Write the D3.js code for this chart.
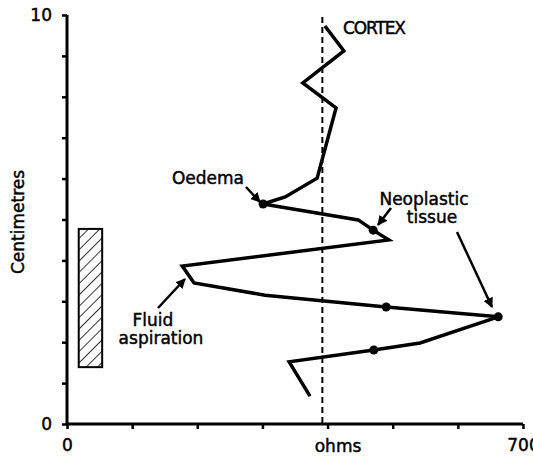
<!DOCTYPE html>
<html>
<head>
<meta charset="utf-8">
<script src="https://cdn.jsdelivr.net/npm/d3@7"></script>
<style>
  html, body { margin: 0; padding: 0; background: #fff; }
  svg { display: block; }
  text { font-family: "DejaVu Sans", sans-serif; font-size: 17px; fill: #000; stroke: #000; stroke-width: 0.45px; }
</style>
</head>
<body>
<svg id="chart" width="533" height="457"></svg>
<script>
// ---- data ----
const ohmsValues  = [396, 425, 362, 413, 384, 335, 301, 447, 470, 494, 177, 195, 304, 490, 662, 542, 471, 341, 373];
const depthValues = [9.73, 9.12, 8.34, 7.73, 6.01, 5.55, 5.38, 4.99, 4.74, 4.50, 3.86, 3.45, 3.15, 2.86, 2.62, 1.98, 1.81, 1.52, 0.68];
const markedIndex = [6, 8, 13, 14, 16];
const cortexOhms = 392;
const cortexTopCm = 9.95;
const aspirationOhms = [18, 54];
const aspirationCm = [1.39, 4.77];
const xTickValues = [0, 100, 200, 300, 400, 500, 600, 700];
const yTickValues = [0, 1, 2, 3, 4, 5, 6, 7, 8, 9, 10];
const xTickLabels = {0: "0", 700: "700"};
const yTickLabels = {0: "0", 10: "10"};

// ---- scales ----
const svg = d3.select("#chart");
const x = d3.scaleLinear().domain([0, 700]).range([67, 523]);
const y = d3.scaleLinear().domain([0, 10]).range([424, 15]);

// hatch pattern
const defs = svg.append("defs");
const pat = defs.append("pattern").attr("id", "hatch").attr("patternUnits", "userSpaceOnUse")
  .attr("width", 8).attr("height", 8).attr("patternTransform", "rotate(45)");
pat.append("line").attr("x1", 0).attr("y1", 0).attr("x2", 0).attr("y2", 8)
  .attr("stroke", "#000").attr("stroke-width", 1.6);

// ---- axes ----
const xAxis = d3.axisBottom(x).tickValues(xTickValues).tickSize(5).tickPadding(10)
  .tickFormat(d => xTickLabels[d] || "");
const gx = svg.append("g").attr("transform", `translate(0,${y(0)})`).call(xAxis);
gx.select(".domain").attr("stroke", "#000").attr("stroke-width", 3).attr("d", `M${x(0)},0H${x(700)}`);
gx.selectAll(".tick line").attr("stroke", "#000").attr("stroke-width", 2.5);
gx.selectAll(".tick text").attr("font-size", 17).attr("font-family", "DejaVu Sans").attr("dy", "0.71em");

const yAxis = d3.axisLeft(y).tickValues(yTickValues).tickSize(5).tickPadding(10)
  .tickFormat(d => yTickLabels[d] || "");
const gy = svg.append("g").attr("transform", `translate(${x(0)},0)`).call(yAxis);
gy.select(".domain").attr("stroke", "#000").attr("stroke-width", 3).attr("d", `M0,${y(10)}V${y(0)}`);
gy.selectAll(".tick line").attr("stroke", "#000").attr("stroke-width", 2.5);
gy.selectAll(".tick text").attr("font-size", 17).attr("font-family", "DejaVu Sans");

svg.append("text").attr("x", 338).attr("y", 452).attr("text-anchor", "middle").text("ohms");
svg.append("text").attr("transform", "translate(24,222) rotate(-90)").attr("text-anchor", "middle").text("Centimetres");

// ---- cortex reference dashed line ----
svg.append("line")
  .attr("x1", x(cortexOhms)).attr("x2", x(cortexOhms))
  .attr("y1", y(cortexTopCm)).attr("y2", y(0))
  .attr("stroke", "#000").attr("stroke-width", 2).attr("stroke-dasharray", "6,4");

// ---- aspiration bar ----
svg.append("rect")
  .attr("x", x(aspirationOhms[0])).attr("y", y(aspirationCm[1]))
  .attr("width", x(aspirationOhms[1]) - x(aspirationOhms[0]))
  .attr("height", y(aspirationCm[0]) - y(aspirationCm[1]))
  .attr("fill", "url(#hatch)").attr("stroke", "#000").attr("stroke-width", 2);

// ---- profile line ----
const pts = ohmsValues.map((v, i) => ({o: v, d: depthValues[i]}));
svg.append("path").datum(pts)
  .attr("d", d3.line().x(d => x(d.o)).y(d => y(d.d)))
  .attr("fill", "none").attr("stroke", "#000").attr("stroke-width", 3.5)
  .attr("stroke-linejoin", "miter");
svg.selectAll("circle.mark").data(markedIndex.map(i => pts[i])).enter()
  .append("circle").attr("class", "mark")
  .attr("cx", d => x(d.o)).attr("cy", d => y(d.d)).attr("r", 4.5).attr("fill", "#000");

// ---- annotations ----
defs.append("marker").attr("id", "arrow").attr("viewBox", "0 0 10 10")
  .attr("refX", 9).attr("refY", 5).attr("markerWidth", 4).attr("markerHeight", 4)
  .attr("markerUnits", "strokeWidth").attr("orient", "auto")
  .append("path").attr("d", "M0,0L10,5L0,10z").attr("fill", "#000");

const arrows = [
  [246, 187, 260, 202],
  [391, 208, 378, 225],
  [457, 232, 492, 307],
  [158, 308, 185, 279]
];
svg.selectAll("line.arrow").data(arrows).enter().append("line").attr("class", "arrow")
  .attr("x1", d => d[0]).attr("y1", d => d[1]).attr("x2", d => d[2]).attr("y2", d => d[3])
  .attr("stroke", "#000").attr("stroke-width", 2.5).attr("marker-end", "url(#arrow)");

svg.append("text").attr("x", 343).attr("y", 34).text("CORTEX").attr("textLength", 63);
svg.append("text").attr("x", 208).attr("y", 184).attr("text-anchor", "middle").text("Oedema");
svg.append("text").attr("x", 424).attr("y", 205).attr("text-anchor", "middle").attr("font-size", 16).text("Neoplastic");
svg.append("text").attr("x", 432).attr("y", 223).attr("text-anchor", "middle").attr("font-size", 16).text("tissue");
svg.append("text").attr("x", 153).attr("y", 326).attr("text-anchor", "middle").attr("font-size", 16).text("Fluid");
svg.append("text").attr("x", 161).attr("y", 344).attr("text-anchor", "middle").attr("font-size", 16).text("aspiration");
</script>
</body>
</html>
